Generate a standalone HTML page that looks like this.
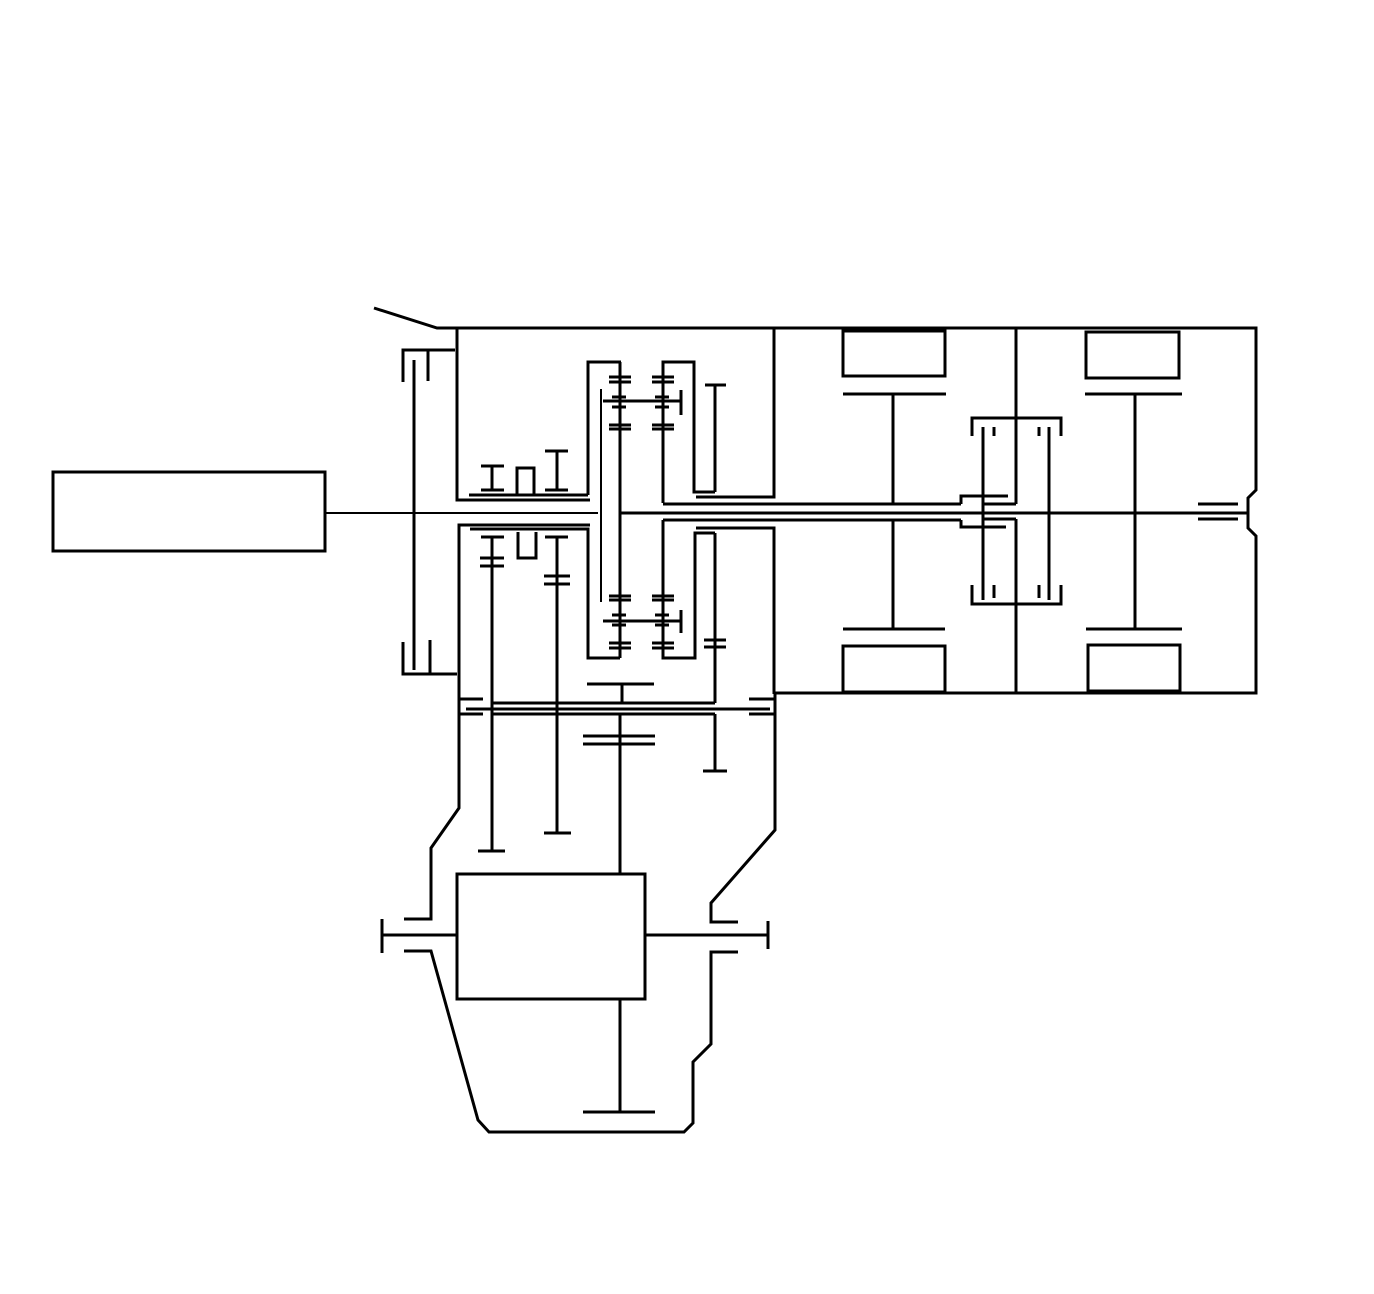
<!DOCTYPE html>
<html><head><meta charset="utf-8"><style>html,body{margin:0;padding:0;background:#fff}svg{display:block}</style></head>
<body>
<svg width="1374" height="1294" viewBox="0 0 1374 1294" xmlns="http://www.w3.org/2000/svg" fill="none" stroke="#000" stroke-width="3" stroke-linecap="butt" stroke-linejoin="miter">
<rect x="53" y="472" width="272" height="79"/>
<line x1="325" y1="513" x2="598" y2="513" stroke-width="2"/>
<polyline points="374,308 437,328 1256,328 1256,490 1248,498 1248,528 1256,536 1256,693 775,693"/>
<polyline points="403,382 403,350 455,350"/>
<line x1="414" y1="360" x2="414" y2="670"/>
<line x1="428" y1="350" x2="428" y2="381"/>
<polyline points="403,642 403,674 457,674"/>
<line x1="430" y1="640" x2="430" y2="674"/>
<polyline points="457,328 457,500 590,500"/>
<line x1="469" y1="495" x2="588" y2="495"/>
<polyline points="588,495 588,362 621,362"/>
<line x1="492" y1="466" x2="492" y2="490"/><line x1="481" y1="466" x2="504" y2="466"/><line x1="481" y1="490" x2="504" y2="490"/>
<polyline points="517,495 517,468 534,468 534,495"/>
<line x1="557" y1="451" x2="557" y2="490"/><line x1="545" y1="451" x2="568" y2="451"/><line x1="545" y1="490" x2="568" y2="490"/>
<polyline points="590,525 459,525 459,808 431,848 431,919 404,919"/>
<polyline points="470,529 588,529 588,658 620,658"/>
<line x1="492" y1="537" x2="492" y2="851"/><line x1="481" y1="537" x2="504" y2="537"/><line x1="480" y1="558" x2="504" y2="558"/><line x1="480" y1="566" x2="504" y2="566"/><line x1="478" y1="851" x2="505" y2="851"/>
<polyline points="518,532 518,558 536,558 536,532"/>
<line x1="557" y1="537" x2="557" y2="833"/><line x1="545" y1="537" x2="568" y2="537"/><line x1="544" y1="576" x2="570" y2="576"/><line x1="544" y1="584" x2="570" y2="584"/><line x1="544" y1="833" x2="571" y2="833"/>
<line x1="601" y1="389" x2="601" y2="602" stroke-width="2"/>
<line x1="620" y1="362" x2="620" y2="658"/>
<line x1="609" y1="377" x2="631" y2="377"/><line x1="609" y1="382" x2="631" y2="382"/>
<line x1="612" y1="397" x2="626" y2="397"/><line x1="612" y1="407" x2="626" y2="407"/>
<line x1="609" y1="425" x2="631" y2="425"/><line x1="609" y1="429" x2="631" y2="429"/>
<line x1="609" y1="596" x2="631" y2="596"/><line x1="609" y1="600" x2="631" y2="600"/>
<line x1="612" y1="615" x2="626" y2="615"/><line x1="612" y1="625" x2="626" y2="625"/>
<line x1="609" y1="643" x2="631" y2="643"/><line x1="609" y1="648" x2="631" y2="648"/>
<polyline points="663,503 663,362 694,362 694,492 715,492"/>
<line x1="652" y1="377" x2="674" y2="377"/><line x1="652" y1="382" x2="674" y2="382"/>
<line x1="655" y1="397" x2="669" y2="397"/><line x1="655" y1="407" x2="669" y2="407"/>
<line x1="652" y1="425" x2="674" y2="425"/><line x1="652" y1="429" x2="674" y2="429"/>
<line x1="652" y1="596" x2="674" y2="596"/><line x1="652" y1="600" x2="674" y2="600"/>
<line x1="655" y1="615" x2="669" y2="615"/><line x1="655" y1="625" x2="669" y2="625"/>
<line x1="652" y1="643" x2="674" y2="643"/><line x1="652" y1="648" x2="674" y2="648"/>
<polyline points="663,520 663,658 695,658 695,533 715,533"/>
<line x1="603" y1="401" x2="681" y2="401"/><line x1="681" y1="390" x2="681" y2="415"/>
<line x1="603" y1="621" x2="681" y2="621"/><line x1="681" y1="610" x2="681" y2="633"/>
<line x1="715" y1="385" x2="715" y2="492"/><line x1="705" y1="385" x2="726" y2="385"/>
<line x1="715" y1="533" x2="715" y2="703"/><line x1="704" y1="640" x2="726" y2="640"/><line x1="704" y1="647" x2="726" y2="647"/>
<polyline points="696,497 774,497 774,328"/>
<polyline points="696,528 774,528 774,694"/>
<line x1="620" y1="513" x2="1248" y2="513"/>
<line x1="663" y1="504" x2="961" y2="504"/>
<line x1="663" y1="520" x2="961" y2="520"/>
<polyline points="961,504 961,496 1008,496"/>
<polyline points="961,520 961,527 1006,527"/>
<line x1="983" y1="504" x2="1016" y2="504"/>
<line x1="983" y1="519" x2="1016" y2="519"/>
<line x1="1198" y1="504" x2="1238" y2="504"/>
<line x1="1198" y1="519" x2="1238" y2="519"/>
<rect x="843" y="331" width="102" height="45"/>
<line x1="843" y1="394" x2="946" y2="394"/><line x1="893" y1="394" x2="893" y2="503"/>
<line x1="893" y1="520" x2="893" y2="629"/><line x1="843" y1="629" x2="945" y2="629"/>
<rect x="843" y="646" width="102" height="46"/>
<rect x="1086" y="332" width="93" height="46"/>
<line x1="1085" y1="394" x2="1182" y2="394"/><line x1="1135" y1="394" x2="1135" y2="629"/>
<line x1="1086" y1="629" x2="1182" y2="629"/>
<rect x="1088" y="645" width="92" height="46"/>
<line x1="1016" y1="328" x2="1016" y2="504"/>
<line x1="1016" y1="519" x2="1016" y2="693"/>
<polyline points="972,436 972,418 1061,418 1061,436"/>
<line x1="994" y1="427" x2="994" y2="436"/><line x1="1039" y1="427" x2="1039" y2="436"/>
<line x1="983" y1="427" x2="983" y2="600"/><line x1="1049" y1="427" x2="1049" y2="600"/>
<polyline points="972,585 972,604 1061,604 1061,585"/>
<line x1="994" y1="585" x2="994" y2="598"/><line x1="1039" y1="585" x2="1039" y2="598"/>
<line x1="492" y1="703" x2="715" y2="703"/>
<line x1="466" y1="709" x2="770" y2="709"/>
<line x1="492" y1="714" x2="715" y2="714"/>
<line x1="459" y1="699" x2="483" y2="699"/><line x1="459" y1="714" x2="483" y2="714"/>
<line x1="749" y1="699" x2="774" y2="699"/><line x1="749" y1="714" x2="774" y2="714"/>
<line x1="587" y1="684" x2="654" y2="684"/><line x1="622" y1="684" x2="622" y2="703"/>
<line x1="620" y1="714" x2="620" y2="873"/>
<line x1="583" y1="736" x2="655" y2="736"/><line x1="583" y1="744" x2="655" y2="744"/>
<line x1="715" y1="714" x2="715" y2="771"/><line x1="703" y1="771" x2="727" y2="771"/>
<polyline points="775,694 775,830 711,903 711,922 738,922"/>
<polyline points="404,951 431,951 478,1120 489,1132 684,1132 693,1123 693,1062 711,1044 711,952 738,952"/>
<rect x="457" y="874" width="188" height="125"/>
<line x1="382" y1="935" x2="457" y2="935"/><line x1="382" y1="919" x2="382" y2="953"/>
<line x1="645" y1="935" x2="768" y2="935"/><line x1="768" y1="921" x2="768" y2="949"/>
<line x1="620" y1="999" x2="620" y2="1112"/><line x1="583" y1="1112" x2="655" y2="1112"/>
</svg>
</body></html>
